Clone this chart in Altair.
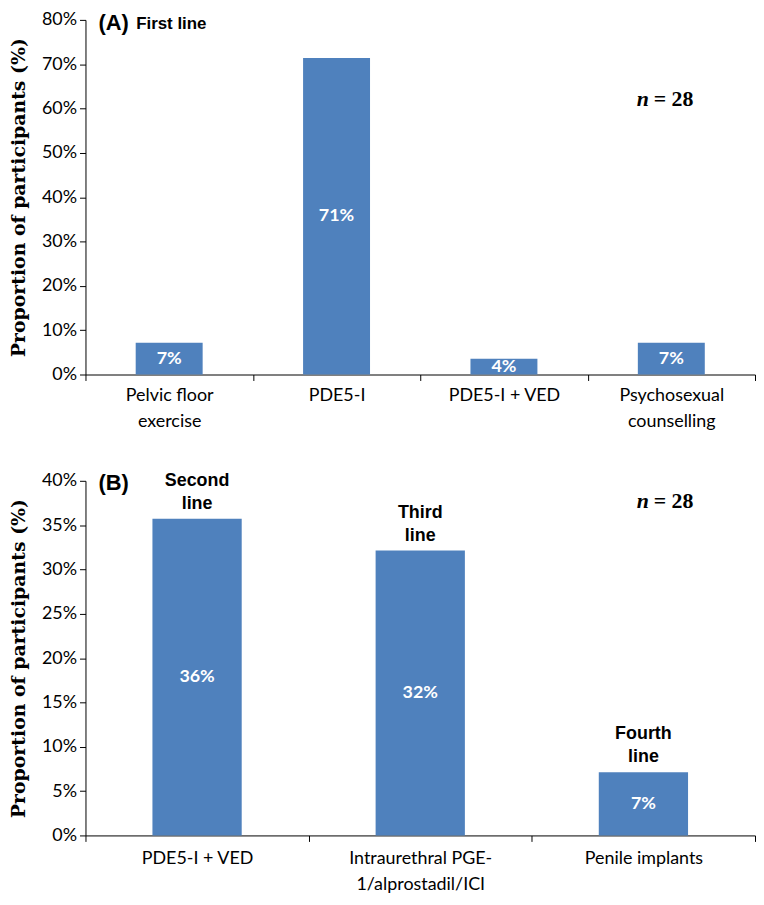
import altair as alt
import pandas as pd

# ---- data ----
top_categories = ["Pelvic floor\nexercise", "PDE5-I", "PDE5-I + VED", "Psychosexual\ncounselling"]
top_values = [7.14, 71.43, 3.57, 7.14]
top_ticks = [0, 10, 20, 30, 40, 50, 60, 70, 80]

bottom_categories = ["PDE5-I + VED", "Intraurethral PGE-\n1/alprostadil/ICI", "Penile implants"]
bottom_values = [35.71, 32.14, 7.14]
bottom_line_labels = ["Second\nline", "Third\nline", "Fourth\nline"]
bottom_ticks = [0, 5, 10, 15, 20, 25, 30, 35, 40]

top_tag = "(A)"
top_title = "First line"
bottom_tag = "(B)"
n_italic = "n"
n_rest = "= 28"
y_title = "Proportion of participants (%)"

BAR = "#4F81BD"
W = 674
H = 357


def panel(cats, vals, ticks, ymax, tag, title=None, line_labels=None, n_y=83, label_pad=6, tag_y=2):
    df = pd.DataFrame({"category": cats, "value": vals})
    if line_labels is not None:
        df["line"] = line_labels
    base = alt.Chart(df).transform_calculate(
        label="format(round(datum.value), 'd') + '%'",
        mid="datum.value / 2",
    )
    x_axis = alt.Axis(
        title=None, labelAngle=0, labelExpr="split(datum.label, '\\n')",
        labelFont="Lato", labelFontSize=18, labelColor="black",
        labelLineHeight=26, labelPadding=label_pad, labelBaseline="top",
        tickBand="extent", tickSize=6, tickColor="black",
        domainColor="black", labelLimit=0, grid=False,
    )
    y_axis = alt.Axis(
        title=y_title, values=ticks, labelExpr="datum.value + '%'",
        labelFont="Lato", labelFontSize=18, labelColor="black",
        tickSize=6, tickColor="black", domainColor="black", grid=False,
        titleFont="DejaVu Serif", titleFontWeight="bold", titleFontSize=19,
        titleColor="black", titlePadding=13, labelPadding=3,
    )
    xs = alt.Scale(paddingInner=0, paddingOuter=0)
    ys = alt.Scale(domain=[0, ymax], nice=False)
    X = alt.X("category:N", sort=None, scale=xs, axis=x_axis, title=None)

    bars = base.mark_bar(color=BAR, width=alt.RelativeBandSize(0.4)).encode(
        x=X,
        y=alt.Y("value:Q", scale=ys, axis=y_axis, title=y_title),
    )
    vlabels = base.mark_text(
        color="white", font="Lato", fontWeight="bold", fontSize=18, baseline="middle"
    ).encode(
        x=X,
        y=alt.Y("mid:Q", scale=ys, axis=y_axis, title=y_title),
        text="label:N",
    )
    layers = [bars, vlabels]
    if line_labels is not None:
        ll = base.mark_text(
            color="black", font="Liberation Sans", fontWeight="bold", fontSize=18,
            baseline="bottom", lineBreak="\n", lineHeight=23, dy=-29,
        ).encode(
            x=X,
            y=alt.Y("value:Q", scale=ys, axis=y_axis, title=y_title),
            text="line:N",
        )
        layers.append(ll)
    tag_layer = alt.Chart(pd.DataFrame({"t": [tag]})).mark_text(
        align="left", baseline="middle", font="Liberation Sans", fontWeight="bold",
        fontSize=22, color="black",
    ).encode(x=alt.value(13), y=alt.value(tag_y), text="t:N")
    layers.append(tag_layer)
    if title is not None:
        title_layer = alt.Chart(pd.DataFrame({"t": [title]})).mark_text(
            align="left", baseline="middle", font="Liberation Sans", fontWeight="bold",
            fontSize=17, color="black",
        ).encode(x=alt.value(51), y=alt.value(tag_y + 1), text="t:N")
        layers.append(title_layer)
    n1 = alt.Chart(pd.DataFrame({"t": [n_italic]})).mark_text(
        align="left", baseline="middle", font="Liberation Serif", fontWeight="bold",
        fontStyle="italic", fontSize=22, color="black",
    ).encode(x=alt.value(555), y=alt.value(n_y), text="t:N")
    n2 = alt.Chart(pd.DataFrame({"t": [n_rest]})).mark_text(
        align="left", baseline="middle", font="Liberation Serif", fontWeight="bold",
        fontSize=22, color="black",
    ).encode(x=alt.value(572), y=alt.value(n_y), text="t:N")
    layers += [n1, n2]
    return alt.layer(*layers).properties(width=W, height=H)


top = panel(top_categories, top_values, top_ticks, 80, top_tag, title=top_title,
            n_y=80, label_pad=6, tag_y=3)
bottom = panel(bottom_categories, bottom_values, bottom_ticks, 40, bottom_tag,
               line_labels=bottom_line_labels, n_y=20, label_pad=8, tag_y=2)

chart = alt.vconcat(top, bottom, spacing=42).properties(
    padding={"left": 1, "top": 0, "right": 0, "bottom": 0}
).configure_view(stroke=None)

chart.save("out.html", embed_options={"renderer": "svg", "actions": False})
